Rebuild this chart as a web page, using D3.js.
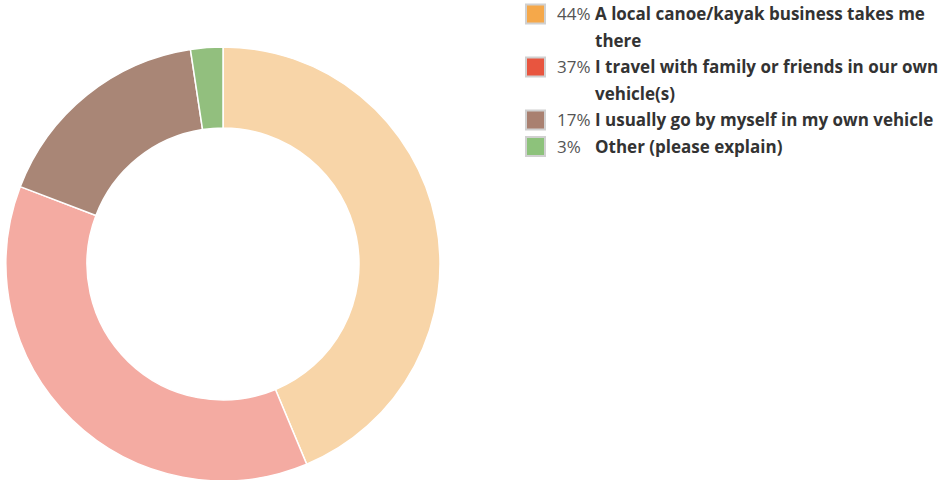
<!DOCTYPE html>
<html>
<head>
<meta charset="utf-8">
<script src="https://cdn.jsdelivr.net/npm/d3@7"></script>
<style>
  body { margin: 0; background: #fff; font-family: "Open Sans", sans-serif; }
</style>
</head>
<body>
<div class="chart"></div>
<script>
// Answers and shares
const answers = [
    'A local canoe/kayak business takes me there',
    'I travel with family or friends in our own vehicle(s)',
    'I usually go by myself in my own vehicle',
    'Other (please explain)'
];
const shares = [43.7, 37.1, 16.8, 2.4];
const shareLabels = ['44%', '37%', '17%', '3%'];
const sliceColors = ['#f8d5a8', '#f4aba2', '#a98676', '#92bf7e'];
const swatchColors = ['#f5a84a', '#e8553f', '#a98070', '#8dc27b'];

const W = 943, H = 480;

const svg = d3.select('.chart')
    .append('svg')
        .attr('width', W)
        .attr('height', H);

// Donut
const cx = 223, cy = 264, outer = 217, inner = 136;
const pie = d3.pie().sort(null).value(d => d);
const arc = d3.arc().innerRadius(inner).outerRadius(outer);

svg.append('g')
    .attr('transform', `translate(${cx},${cy})`)
    .selectAll('path')
    .data(pie(shares))
    .enter()
        .append('path')
        .attr('d', arc)
        .attr('fill', (d, i) => sliceColors[i])
        .attr('stroke', '#fff')
        .attr('stroke-width', 1.5);

// Legend
const legend = svg.append('g').attr('transform', 'translate(526,0)');
const lineH = 26.5, maxW = 344;
let y = 20;

answers.forEach((txt, i) => {
    const row = legend.append('g');
    row.append('rect')
        .attr('x', 0).attr('y', y - 15.5)
        .attr('width', 19).attr('height', 19)
        .attr('fill', swatchColors[i])
        .attr('stroke', '#d0d0d0')
        .attr('stroke-width', 2);
    row.append('text')
        .attr('x', 31).attr('y', y)
        .style('font-size', '17px')
        .style('fill', '#555')
        .text(shareLabels[i]);

    // wrap bold label
    const t = row.append('text')
        .attr('x', 69).attr('y', y)
        .style('font-size', '17px')
        .style('font-weight', 'bold')
        .style('fill', '#333');
    const words = txt.split(' ');
    let line = [];
    let ts = t.append('tspan').attr('x', 69).attr('y', y);
    let lines = 1;
    words.forEach(w => {
        line.push(w);
        ts.text(line.join(' '));
        if (ts.node().getComputedTextLength() > maxW && line.length > 1) {
            line.pop();
            ts.text(line.join(' '));
            line = [w];
            lines++;
            ts = t.append('tspan').attr('x', 69).attr('y', y + (lines - 1) * lineH).text(w);
        }
    });
    y += lines * lineH;
});
</script>
</body>
</html>
